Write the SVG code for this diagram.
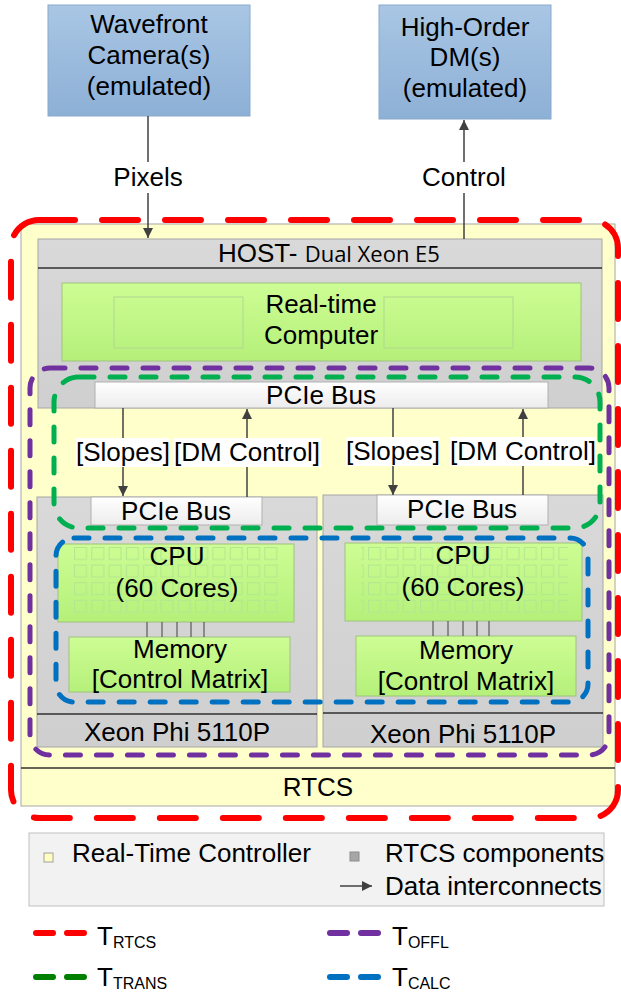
<svg xmlns="http://www.w3.org/2000/svg" width="621" height="993" viewBox="0 0 621 993">
<defs>
  <linearGradient id="gBlue" x1="0" y1="0" x2="0" y2="1"><stop offset="0" stop-color="#a9c6e4"/><stop offset="1" stop-color="#8db0d6"/></linearGradient>
  <linearGradient id="gGreen" x1="0" y1="0" x2="0" y2="1"><stop offset="0" stop-color="#cdfd94"/><stop offset="1" stop-color="#b5f07a"/></linearGradient>
  <linearGradient id="gGray" x1="0" y1="0" x2="0" y2="1"><stop offset="0" stop-color="#d9d9d9"/><stop offset="1" stop-color="#cfcfcf"/></linearGradient>
  <linearGradient id="gWhite" x1="0" y1="0" x2="0" y2="1"><stop offset="0" stop-color="#ffffff"/><stop offset="1" stop-color="#ececec"/></linearGradient>
  <marker id="arr" viewBox="0 0 10 10" refX="10" refY="5" markerWidth="10" markerHeight="10" markerUnits="userSpaceOnUse" orient="auto">
    <path d="M0,0 L10,5 L0,10 z" fill="#404040"/>
  </marker>
  <pattern id="cores" x="74" y="547" width="17.3" height="17.6" patternUnits="userSpaceOnUse">
    <rect x="0.5" y="0.5" width="12" height="12" fill="none" stroke="#b2e690" stroke-width="1"/>
  </pattern>
</defs>
<style>
  text { font-family: "Liberation Sans", Arial, sans-serif; fill: #000; font-size: 26px; }
  .lab { text-anchor: middle; }
  .blue { fill: url(#gBlue); stroke: #8ba9c9; stroke-width: 1; }
  .green { fill: url(#gGreen); stroke: #9fc27f; stroke-width: 1; }
  .gray { fill: url(#gGray); stroke: #a6a6a6; stroke-width: 1; }
  .white { fill: url(#gWhite); stroke: #b0b0b0; stroke-width: 1; }
  .inner { fill: none; stroke: #b0d890; stroke-width: 1; }
  .conn { stroke: #404040; stroke-width: 1.5; fill: none; }
  .div { stroke: #303030; stroke-width: 1.3; }
  .bus { stroke: #404040; stroke-width: 1; }
  .dash { fill: none; stroke-linecap: round; stroke-width: 5; stroke-dasharray: 15 16; }
  .ld { stroke-width: 6; stroke-linecap: round; stroke-dasharray: 17 14; }
  .sub { font-size: 16px; }
</style>

<g id="rtc">
  <rect x="21" y="224" width="594" height="582" fill="#ffffcc" stroke="#a6a6a6" stroke-width="1"/>
  <line x1="21" y1="768" x2="615" y2="768" class="div"/>
  <text x="318" y="796" class="lab">RTCS</text>
</g>

<g id="camera">
  <rect x="48" y="5" width="202" height="111" class="blue"/>
  <text x="149" y="33" class="lab">Wavefront</text>
  <text x="149" y="64" class="lab">Camera(s)</text>
  <text x="149" y="95" class="lab">(emulated)</text>
</g>

<g id="dm">
  <rect x="379" y="5" width="172" height="114" class="blue"/>
  <text x="465" y="36" class="lab">High-Order</text>
  <text x="465" y="66" class="lab">DM(s)</text>
  <text x="465" y="97" class="lab">(emulated)</text>
</g>

<g id="host">
  <rect x="38" y="239" width="564" height="169" class="gray"/>
  <line x1="38" y1="268" x2="602" y2="268" class="div"/>
  <text x="218" y="262">HOST- <tspan font-family="'Open Sans', 'Noto Sans', sans-serif" font-size="22">Dual Xeon E5</tspan></text>
</g>

<g id="rtcomputer">
  <rect x="62" y="283" width="519" height="78" class="green"/>
  <rect x="114" y="297" width="129" height="51" class="inner"/>
  <rect x="384" y="297" width="129" height="51" class="inner"/>
  <text x="321" y="313" class="lab">Real-time</text>
  <text x="321" y="344" class="lab">Computer</text>
</g>

<g id="pcie-host">
  <rect x="95" y="382" width="453" height="26" class="white"/>
  <text x="321" y="404" class="lab">PCIe Bus</text>
</g>

<g id="phi-left">
  <rect x="37" y="497" width="280" height="250" class="gray"/>
  <line x1="37" y1="714" x2="317" y2="714" class="div"/>
  <text x="177" y="741" class="lab">Xeon Phi 5110P</text>
</g>
<g id="phi-right">
  <rect x="323" y="495" width="280" height="252" class="gray"/>
  <line x1="323" y1="713" x2="603" y2="713" class="div"/>
  <text x="463" y="743" class="lab">Xeon Phi 5110P</text>
</g>

<g id="pcie-left">
  <rect x="91" y="497" width="171" height="28" class="white"/>
  <text x="176" y="520" class="lab">PCIe Bus</text>
</g>
<g id="pcie-right">
  <rect x="377" y="495" width="171" height="30" class="white"/>
  <text x="462" y="518" class="lab">PCIe Bus</text>
</g>

<g id="cpu-left">
  <rect x="58" y="544" width="236" height="78" class="green"/>
  <rect x="74" y="547" width="207" height="70" fill="url(#cores)"/>
  <text x="177" y="565" class="lab">CPU</text>
  <text x="177" y="597" class="lab">(60 Cores)</text>
</g>
<g id="mem-left">
  <rect x="69" y="637" width="221" height="55" class="green"/>
  <text x="180" y="658" class="lab">Memory</text>
  <text x="180" y="688" class="lab">[Control Matrix]</text>
</g>

<g id="cpu-right">
  <rect x="345" y="543" width="237" height="78" class="green"/>
  <rect x="361" y="545" width="207" height="70" fill="url(#cores)"/>
  <text x="463" y="564" class="lab">CPU</text>
  <text x="463" y="596" class="lab">(60 Cores)</text>
</g>
<g id="mem-right">
  <rect x="356" y="636" width="220" height="60" class="green"/>
  <text x="466" y="659" class="lab">Memory</text>
  <text x="466" y="690" class="lab">[Control Matrix]</text>
</g>

<g id="connectors">
  <line x1="148" y1="116" x2="148" y2="238" class="conn" marker-end="url(#arr)"/>
  <line x1="464" y1="239" x2="464" y2="120" class="conn" marker-end="url(#arr)"/>
  <line x1="123" y1="408" x2="123" y2="496" class="conn" marker-end="url(#arr)"/>
  <line x1="247" y1="497" x2="247" y2="409" class="conn" marker-end="url(#arr)"/>
  <line x1="393" y1="408" x2="393" y2="495" class="conn" marker-end="url(#arr)"/>
  <line x1="523" y1="495" x2="523" y2="409" class="conn" marker-end="url(#arr)"/>
  <g class="bus">
    <line x1="147" y1="622" x2="147" y2="637"/><line x1="162" y1="622" x2="162" y2="637"/>
    <line x1="177" y1="622" x2="177" y2="637"/><line x1="191" y1="622" x2="191" y2="637"/>
    <line x1="204" y1="622" x2="204" y2="637"/>
    <line x1="433" y1="621" x2="433" y2="636"/><line x1="448" y1="621" x2="448" y2="636"/>
    <line x1="463" y1="621" x2="463" y2="636"/><line x1="477" y1="621" x2="477" y2="636"/>
    <line x1="489" y1="621" x2="489" y2="636"/>
  </g>
  <rect x="110" y="162" width="76" height="31" fill="#ffffff"/>
  <text x="148" y="186" class="lab">Pixels</text>
  <rect x="418" y="162" width="92" height="31" fill="#ffffff"/>
  <text x="464" y="186" class="lab">Control</text>
  <rect x="76" y="438" width="94" height="29" fill="#ffffff"/>
  <text x="123" y="461" class="lab">[Slopes]</text>
  <rect x="173" y="438" width="148" height="29" fill="#ffffff"/>
  <text x="247" y="461" class="lab">[DM Control]</text>
  <rect x="346" y="437" width="94" height="29" fill="#ffffff"/>
  <text x="393" y="460" class="lab">[Slopes]</text>
  <rect x="450" y="437" width="146" height="29" fill="#ffffff"/>
  <text x="523" y="460" class="lab">[DM Control]</text>
</g>

<g id="timing-regions">
  <rect x="11" y="220" width="607" height="598" rx="28" fill="none" stroke="#ff0000" stroke-width="6" stroke-linecap="round" stroke-dasharray="36 27"/>
  <rect x="30" y="368" width="579" height="387" rx="20" class="dash" stroke="#7030a0"/>
  <rect x="54" y="377" width="546" height="151" rx="25" class="dash" stroke="#00b050"/>
  <rect x="56" y="538" width="532" height="164" rx="18" class="dash" stroke="#0070c0"/>
</g>

<g id="legend">
  <rect x="29" y="833" width="575" height="73" fill="#f2f2f2" stroke="#bfbfbf" stroke-width="1"/>
  <rect x="44" y="853" width="9" height="9" fill="#ffffc0" stroke="#a0a0a0" stroke-width="1"/>
  <text x="72" y="862">Real-Time Controller</text>
  <rect x="350" y="852" width="9" height="9" fill="#a6a6a6" stroke="#8c8c8c" stroke-width="1"/>
  <text x="385" y="862">RTCS components</text>
  <line x1="340" y1="886" x2="372" y2="886" class="conn" marker-end="url(#arr)"/>
  <text x="385" y="895">Data interconnects</text>

  <line x1="36" y1="933" x2="84" y2="933" class="ld" stroke="#ff0000"/>
  <text x="97" y="945" font-size="24">T<tspan class="sub" dy="3">RTCS</tspan></text>
  <line x1="330" y1="933" x2="378" y2="933" class="ld" stroke="#7030a0"/>
  <text x="392" y="945" font-size="24">T<tspan class="sub" dy="3">OFFL</tspan></text>
  <line x1="36" y1="977" x2="84" y2="977" class="ld" stroke="#008000"/>
  <text x="97" y="986" font-size="24">T<tspan class="sub" dy="3">TRANS</tspan></text>
  <line x1="330" y1="977" x2="378" y2="977" class="ld" stroke="#0070c0"/>
  <text x="392" y="986" font-size="24">T<tspan class="sub" dy="3">CALC</tspan></text>
</g>
</svg>
